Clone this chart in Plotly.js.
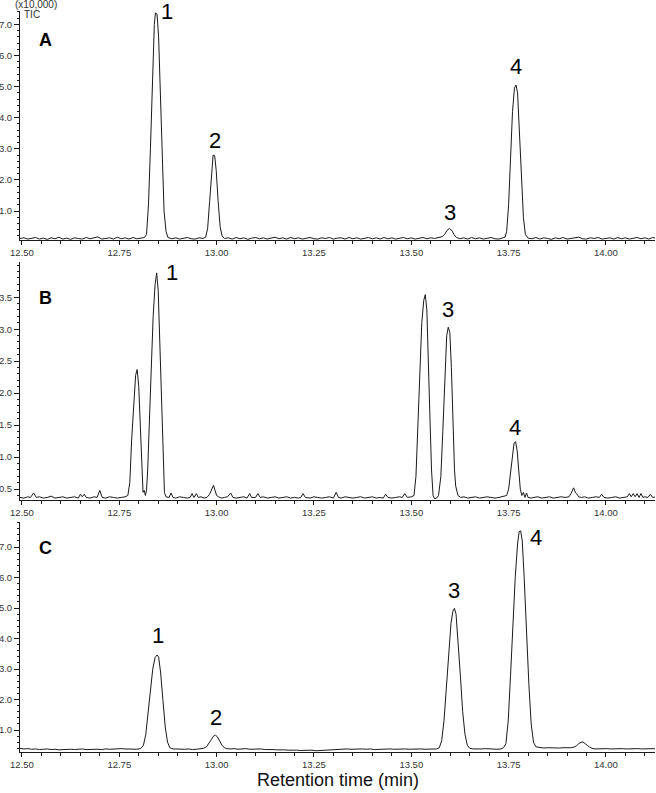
<!DOCTYPE html>
<html>
<head>
<meta charset="utf-8">
<script src="https://cdn.plot.ly/plotly-3.0.1.min.js"></script>
<style>
  html, body { margin: 0; padding: 0; background: #fff; }
  #chart { width: 656px; height: 793px; }
</style>
</head>
<body>
<div id="chart"></div>
<script>
// TIC traces, [retention time (min), intensity (x10,000)]
const ticA = [
  [12.495, 0.12], [12.505, 0.14], [12.515, 0.10], [12.525, 0.13], [12.535, 0.15], [12.545, 0.10],
  [12.555, 0.13], [12.565, 0.09], [12.575, 0.14], [12.585, 0.11], [12.595, 0.16], [12.605, 0.10],
  [12.615, 0.13], [12.625, 0.09], [12.635, 0.14], [12.645, 0.12], [12.655, 0.10], [12.665, 0.15],
  [12.675, 0.11], [12.685, 0.14], [12.695, 0.17], [12.705, 0.10], [12.715, 0.13], [12.725, 0.14],
  [12.735, 0.10], [12.745, 0.16], [12.755, 0.11], [12.765, 0.14], [12.775, 0.10], [12.785, 0.15],
  [12.795, 0.11], [12.805, 0.14], [12.815, 0.15],
  [12.820, 0.25], [12.825, 1.2], [12.830, 3.0], [12.835, 5.2], [12.840, 7.0], [12.843, 7.37],
  [12.847, 7.33], [12.851, 6.6], [12.855, 4.8], [12.860, 2.6], [12.865, 1.0], [12.870, 0.35],
  [12.875, 0.15], [12.885, 0.11], [12.895, 0.14], [12.905, 0.10], [12.915, 0.13], [12.925, 0.15],
  [12.935, 0.11], [12.945, 0.10], [12.955, 0.14], [12.965, 0.12], [12.972, 0.16],
  [12.977, 0.45], [12.982, 1.3], [12.987, 2.3], [12.991, 2.80], [12.995, 2.78], [12.999, 2.3],
  [13.004, 1.3], [13.009, 0.5], [13.014, 0.2], [13.020, 0.12],
  [13.030, 0.14], [13.040, 0.10], [13.050, 0.15], [13.060, 0.11], [13.070, 0.14], [13.080, 0.09],
  [13.090, 0.13], [13.100, 0.15], [13.110, 0.11], [13.120, 0.14], [13.130, 0.10], [13.140, 0.13],
  [13.150, 0.16], [13.160, 0.11], [13.170, 0.14], [13.180, 0.10], [13.190, 0.15], [13.200, 0.11],
  [13.210, 0.14], [13.220, 0.10], [13.230, 0.12], [13.240, 0.15], [13.250, 0.11], [13.260, 0.10],
  [13.270, 0.14], [13.280, 0.12], [13.290, 0.15], [13.300, 0.10], [13.310, 0.13], [13.320, 0.14],
  [13.330, 0.10], [13.340, 0.15], [13.350, 0.11], [13.360, 0.14], [13.370, 0.10], [13.380, 0.12],
  [13.390, 0.15], [13.400, 0.11], [13.410, 0.14], [13.420, 0.10], [13.430, 0.15], [13.440, 0.11],
  [13.450, 0.14], [13.460, 0.10], [13.470, 0.12], [13.480, 0.15], [13.490, 0.11], [13.500, 0.14],
  [13.510, 0.10], [13.520, 0.12], [13.530, 0.15], [13.540, 0.11], [13.550, 0.14], [13.560, 0.12],
  [13.570, 0.15],
  [13.580, 0.18], [13.586, 0.26], [13.592, 0.38], [13.598, 0.44], [13.604, 0.38], [13.610, 0.24],
  [13.616, 0.15], [13.625, 0.11], [13.635, 0.14], [13.645, 0.10], [13.655, 0.15], [13.665, 0.11],
  [13.675, 0.14], [13.685, 0.10], [13.695, 0.12], [13.705, 0.15], [13.715, 0.11], [13.725, 0.10],
  [13.735, 0.14], [13.741, 0.16],
  [13.745, 0.35], [13.750, 1.2], [13.755, 2.7], [13.760, 4.2], [13.765, 4.95], [13.769, 5.05],
  [13.773, 4.8], [13.778, 3.6], [13.783, 2.0], [13.788, 0.8], [13.793, 0.25], [13.800, 0.13],
  [13.810, 0.11], [13.820, 0.15], [13.830, 0.10], [13.840, 0.14], [13.850, 0.12], [13.860, 0.09],
  [13.870, 0.14], [13.880, 0.11], [13.890, 0.15], [13.900, 0.10], [13.910, 0.12], [13.920, 0.14],
  [13.930, 0.16], [13.940, 0.11], [13.950, 0.10], [13.960, 0.14], [13.970, 0.12], [13.980, 0.15],
  [13.990, 0.10], [14.000, 0.12], [14.010, 0.14], [14.020, 0.10], [14.030, 0.15], [14.040, 0.11],
  [14.050, 0.14], [14.060, 0.10], [14.070, 0.12], [14.080, 0.15], [14.090, 0.11], [14.100, 0.14],
  [14.110, 0.10], [14.120, 0.15], [14.130, 0.12]
];

const ticB = [
  [12.495, 0.37], [12.505, 0.36], [12.515, 0.38], [12.522, 0.37], [12.530, 0.44], [12.537, 0.37],
  [12.545, 0.38], [12.555, 0.36], [12.565, 0.37], [12.575, 0.39], [12.585, 0.36], [12.595, 0.37],
  [12.605, 0.38], [12.615, 0.36], [12.625, 0.37], [12.635, 0.38], [12.645, 0.36], [12.650, 0.42],
  [12.655, 0.38], [12.660, 0.42], [12.665, 0.37], [12.675, 0.36], [12.685, 0.38], [12.693, 0.37],
  [12.700, 0.48], [12.706, 0.37], [12.715, 0.36], [12.725, 0.38], [12.735, 0.37], [12.745, 0.36],
  [12.755, 0.37], [12.765, 0.38], [12.772, 0.40],
  [12.777, 0.6], [12.782, 1.3], [12.787, 1.9], [12.792, 2.28], [12.796, 2.37], [12.800, 2.1],
  [12.804, 1.5], [12.808, 0.8], [12.811, 0.45], [12.814, 0.48], [12.817, 0.40], [12.820, 0.48],
  [12.823, 0.8], [12.827, 1.5], [12.832, 2.4], [12.837, 3.2], [12.842, 3.7], [12.846, 3.88],
  [12.850, 3.6], [12.854, 2.8], [12.858, 1.8], [12.862, 0.9], [12.866, 0.45], [12.870, 0.38],
  [12.878, 0.37], [12.883, 0.44], [12.888, 0.37], [12.895, 0.36], [12.905, 0.38], [12.915, 0.37],
  [12.925, 0.36], [12.932, 0.37], [12.937, 0.43], [12.942, 0.37], [12.948, 0.43], [12.953, 0.37],
  [12.960, 0.38], [12.968, 0.36], [12.975, 0.37], [12.982, 0.42], [12.988, 0.50], [12.992, 0.56],
  [12.996, 0.48], [13.000, 0.40], [13.005, 0.38], [13.012, 0.36], [13.020, 0.37], [13.028, 0.38],
  [13.036, 0.44], [13.042, 0.37], [13.050, 0.36], [13.060, 0.37], [13.070, 0.38], [13.078, 0.36],
  [13.085, 0.43], [13.090, 0.37], [13.100, 0.37], [13.106, 0.43], [13.112, 0.37], [13.120, 0.38],
  [13.130, 0.36], [13.140, 0.37], [13.150, 0.38], [13.160, 0.36], [13.170, 0.37], [13.180, 0.38],
  [13.190, 0.36], [13.200, 0.37], [13.210, 0.36], [13.216, 0.37], [13.222, 0.43], [13.228, 0.37],
  [13.240, 0.36], [13.250, 0.38], [13.260, 0.37], [13.270, 0.36], [13.280, 0.37], [13.290, 0.38],
  [13.300, 0.36], [13.307, 0.45], [13.313, 0.37], [13.320, 0.36], [13.330, 0.38], [13.340, 0.37],
  [13.350, 0.36], [13.360, 0.37], [13.370, 0.38], [13.380, 0.36], [13.390, 0.37], [13.400, 0.38],
  [13.410, 0.36], [13.420, 0.37], [13.428, 0.36], [13.434, 0.42], [13.440, 0.37], [13.450, 0.36],
  [13.460, 0.37], [13.470, 0.38], [13.477, 0.37], [13.483, 0.43], [13.490, 0.37], [13.500, 0.38],
  [13.507, 0.40],
  [13.512, 0.7], [13.517, 1.5], [13.522, 2.4], [13.527, 3.1], [13.532, 3.45], [13.536, 3.54],
  [13.540, 3.3], [13.544, 2.6], [13.548, 1.6], [13.552, 0.8], [13.556, 0.40], [13.560, 0.35],
  [13.565, 0.36], [13.570, 0.40],
  [13.576, 0.7], [13.581, 1.4], [13.586, 2.3], [13.591, 2.9], [13.595, 3.03], [13.599, 2.95],
  [13.603, 2.4], [13.607, 1.5], [13.611, 0.8], [13.614, 0.55], [13.617, 0.48], [13.620, 0.40],
  [13.627, 0.37], [13.635, 0.38], [13.645, 0.36], [13.655, 0.37], [13.665, 0.38], [13.675, 0.36],
  [13.685, 0.37], [13.695, 0.38], [13.705, 0.37], [13.715, 0.36], [13.725, 0.37], [13.735, 0.38],
  [13.745, 0.40],
  [13.750, 0.5], [13.755, 0.75], [13.760, 1.05], [13.764, 1.22], [13.768, 1.24], [13.772, 1.1],
  [13.776, 0.8], [13.780, 0.5], [13.784, 0.40], [13.788, 0.45], [13.792, 0.37], [13.796, 0.44],
  [13.800, 0.37], [13.808, 0.36], [13.815, 0.37], [13.825, 0.38], [13.835, 0.36], [13.845, 0.37],
  [13.855, 0.38], [13.865, 0.36], [13.875, 0.37], [13.885, 0.38], [13.895, 0.37], [13.905, 0.38],
  [13.911, 0.44], [13.917, 0.52], [13.922, 0.44], [13.926, 0.42], [13.930, 0.38], [13.937, 0.37],
  [13.945, 0.38], [13.955, 0.36], [13.965, 0.37], [13.975, 0.38], [13.983, 0.37], [13.989, 0.42],
  [13.995, 0.37], [14.005, 0.36], [14.015, 0.37], [14.025, 0.38], [14.035, 0.36], [14.045, 0.37],
  [14.055, 0.38], [14.060, 0.43], [14.065, 0.38], [14.070, 0.43], [14.075, 0.38], [14.080, 0.43],
  [14.085, 0.37], [14.090, 0.43], [14.095, 0.37], [14.100, 0.38], [14.108, 0.37], [14.114, 0.42],
  [14.120, 0.37], [14.130, 0.38]
];

const ticC = [
  [12.495, 0.40], [12.505, 0.38], [12.515, 0.39], [12.525, 0.37], [12.535, 0.38], [12.545, 0.36],
  [12.555, 0.37], [12.565, 0.38], [12.575, 0.36], [12.585, 0.37], [12.595, 0.35], [12.605, 0.36],
  [12.615, 0.38], [12.625, 0.37], [12.635, 0.36], [12.645, 0.37], [12.655, 0.38], [12.665, 0.36],
  [12.675, 0.37], [12.685, 0.38], [12.695, 0.37], [12.705, 0.36], [12.715, 0.38], [12.725, 0.37],
  [12.735, 0.38], [12.745, 0.37], [12.755, 0.39], [12.765, 0.38], [12.775, 0.37], [12.785, 0.38],
  [12.795, 0.37], [12.805, 0.39],
  [12.812, 0.50], [12.818, 0.85], [12.824, 1.5], [12.830, 2.3], [12.836, 3.0], [12.842, 3.38],
  [12.847, 3.46], [12.851, 3.40], [12.856, 2.9], [12.862, 2.0], [12.868, 1.1], [12.874, 0.6],
  [12.880, 0.42], [12.888, 0.38], [12.898, 0.37], [12.908, 0.38], [12.918, 0.37], [12.928, 0.38],
  [12.938, 0.36], [12.948, 0.37], [12.958, 0.38], [12.966, 0.40],
  [12.974, 0.45], [12.980, 0.55], [12.986, 0.68], [12.992, 0.80], [12.997, 0.83], [13.002, 0.78],
  [13.008, 0.63], [13.014, 0.50], [13.020, 0.42], [13.026, 0.39],
  [13.035, 0.38], [13.045, 0.39], [13.055, 0.37], [13.065, 0.38], [13.075, 0.39], [13.085, 0.37],
  [13.095, 0.38], [13.105, 0.37], [13.115, 0.38], [13.125, 0.36], [13.135, 0.37], [13.145, 0.36],
  [13.155, 0.35], [13.165, 0.36], [13.175, 0.35], [13.185, 0.34], [13.195, 0.35], [13.205, 0.34],
  [13.215, 0.33], [13.225, 0.34], [13.235, 0.33], [13.245, 0.34], [13.255, 0.32], [13.265, 0.33],
  [13.275, 0.34], [13.285, 0.35], [13.295, 0.36], [13.305, 0.37], [13.315, 0.36], [13.325, 0.37],
  [13.335, 0.38], [13.345, 0.37], [13.355, 0.38], [13.365, 0.37], [13.375, 0.38], [13.385, 0.37],
  [13.395, 0.38], [13.405, 0.36], [13.415, 0.37], [13.425, 0.38], [13.435, 0.37], [13.445, 0.38],
  [13.455, 0.37], [13.465, 0.38], [13.475, 0.37], [13.485, 0.38], [13.495, 0.37], [13.505, 0.38],
  [13.515, 0.37], [13.525, 0.38], [13.535, 0.37], [13.545, 0.38], [13.555, 0.37], [13.565, 0.38],
  [13.572, 0.42], [13.578, 0.65], [13.584, 1.3], [13.590, 2.4], [13.596, 3.6], [13.602, 4.5],
  [13.607, 4.9], [13.611, 4.99], [13.615, 4.8], [13.620, 4.0], [13.626, 2.8], [13.632, 1.6],
  [13.638, 0.85], [13.644, 0.50], [13.650, 0.40], [13.660, 0.38], [13.670, 0.37], [13.680, 0.38],
  [13.690, 0.39], [13.700, 0.38], [13.710, 0.39], [13.720, 0.37], [13.730, 0.38], [13.737, 0.42],
  [13.743, 0.55], [13.749, 1.3], [13.755, 2.8], [13.761, 4.5], [13.767, 6.0], [13.773, 7.1],
  [13.777, 7.5], [13.781, 7.53], [13.785, 7.2], [13.790, 6.0], [13.796, 4.2], [13.802, 2.5],
  [13.808, 1.2], [13.814, 0.6], [13.820, 0.45], [13.830, 0.42], [13.840, 0.41], [13.850, 0.42],
  [13.860, 0.41], [13.870, 0.42], [13.880, 0.41], [13.890, 0.42], [13.900, 0.41], [13.910, 0.42],
  [13.918, 0.44], [13.924, 0.48], [13.930, 0.55], [13.936, 0.60], [13.941, 0.61], [13.946, 0.57],
  [13.952, 0.50], [13.958, 0.44], [13.964, 0.40], [13.972, 0.38], [13.982, 0.39], [13.992, 0.38],
  [14.002, 0.39], [14.012, 0.38], [14.022, 0.39], [14.032, 0.38], [14.042, 0.39], [14.052, 0.38],
  [14.062, 0.39], [14.072, 0.38], [14.082, 0.39], [14.092, 0.38], [14.102, 0.39], [14.112, 0.38],
  [14.122, 0.39], [14.130, 0.38]
];

const panelNames = ['A', 'B', 'C'];
// labelled y ticks of each panel
const yTicksA = [1, 2, 3, 4, 5, 6, 7];
const yTicksB = [0.5, 1, 1.5, 2, 2.5, 3, 3.5];
const yTicksC = [1, 2, 3, 4, 5, 6, 7];
const yTicks = [yTicksA, yTicksB, yTicksC];
const yRanges = [[0.07, 7.43], [0.33, 4.05], [0.28, 7.82]];
const xRange = [12.495, 14.126];

// peak number labels: [panel, text, x px, y px]
const peakLabels = [
  [0, '1', 167, 12], [0, '2', 215, 140], [0, '3', 450, 212], [0, '4', 516, 67],
  [1, '1', 172, 273], [1, '3', 448, 310], [1, '4', 515, 427],
  [2, '1', 158, 635], [2, '2', 216, 717], [2, '3', 454, 590], [2, '4', 536, 537]
];

const W = 656, H = 793, L = 20, R = 1;
const px = x => (x - L) / (W - L - R);
const py = y => 1 - y / H;
const domains = [[py(240), py(11)], [py(500), py(262)], [py(752), py(522)]];
const letterY = [40, 298, 548];

const font = 'Liberation Sans, Arial, sans-serif';
const ink = '#1a1a1a';

const traces = [ticA, ticB, ticC].map((d, i) => ({
  x: d.map(p => p[0]),
  y: d.map(p => p[1]),
  xaxis: i ? 'x' + (i + 1) : 'x',
  yaxis: i ? 'y' + (i + 1) : 'y',
  type: 'scatter',
  mode: 'lines',
  line: { color: ink, width: 1 },
  hoverinfo: 'skip',
  showlegend: false,
}));

const layout = {
  width: W, height: H,
  margin: { l: L, r: R, t: 0, b: 0 },
  paper_bgcolor: '#fff',
  plot_bgcolor: '#fff',
  font: { family: font, color: '#333' },
  showlegend: false,
  annotations: [],
};

panelNames.forEach((name, i) => {
  const sfx = i ? String(i + 1) : '';
  const step = yTicks[i][1] - yTicks[i][0];
  layout['xaxis' + sfx] = {
    anchor: 'y' + sfx,
    domain: [0, 1],
    range: xRange,
    tick0: 12.5, dtick: 0.25, tickformat: '.2f',
    ticks: 'outside', ticklen: 4, tickwidth: 1, tickcolor: ink,
    minor: { tick0: 12.5, dtick: 0.05, ticks: 'outside', ticklen: 2.5, tickcolor: ink, showgrid: false },
    showline: true, linecolor: ink, linewidth: 1,
    showgrid: false, zeroline: false,
    tickfont: { size: 9.5, color: '#333' },
    fixedrange: true,
  };
  layout['yaxis' + sfx] = {
    anchor: 'x' + sfx,
    domain: domains[i],
    range: yRanges[i],
    tickmode: 'array', tickvals: yTicks[i], ticktext: yTicks[i].map(v => v.toFixed(1)),
    ticks: 'outside', ticklen: 5, tickwidth: 1, tickcolor: ink,
    minor: { tick0: 0, dtick: step / 5, ticks: 'outside', ticklen: 2.5, tickcolor: ink, showgrid: false },
    showline: true, linecolor: ink, linewidth: 1,
    showgrid: false, zeroline: false,
    tickfont: { size: 9.5, color: '#333' },
    fixedrange: true,
  };
  layout.annotations.push({
    xref: 'paper', yref: 'paper', x: px(45), y: py(letterY[i]),
    text: '<b>' + name + '</b>', showarrow: false,
    font: { family: font, size: 18, color: '#000' },
    xanchor: 'center', yanchor: 'middle',
  });
});

peakLabels.forEach(([, t, x, y]) => {
  layout.annotations.push({
    xref: 'paper', yref: 'paper', x: px(x), y: py(y),
    text: t, showarrow: false,
    font: { family: font, size: 22, color: '#000' },
    xanchor: 'center', yanchor: 'middle',
  });
});

layout.annotations.push(
  {
    xref: 'paper', yref: 'paper', x: px(13), y: py(5), text: '(x10,000)', showarrow: false,
    font: { family: font, size: 10, color: '#333' }, xanchor: 'left', yanchor: 'middle',
  },
  {
    xref: 'paper', yref: 'paper', x: px(22), y: py(15), text: 'TIC', showarrow: false,
    font: { family: font, size: 10, color: '#333' }, xanchor: 'left', yanchor: 'middle',
  },
  {
    xref: 'paper', yref: 'paper', x: px(338), y: py(780), text: 'Retention time (min)', showarrow: false,
    font: { family: font, size: 18, color: '#111' }, xanchor: 'center', yanchor: 'middle',
  }
);

Plotly.newPlot('chart', traces, layout, { displayModeBar: false, staticPlot: true });
</script>
</body>
</html>
